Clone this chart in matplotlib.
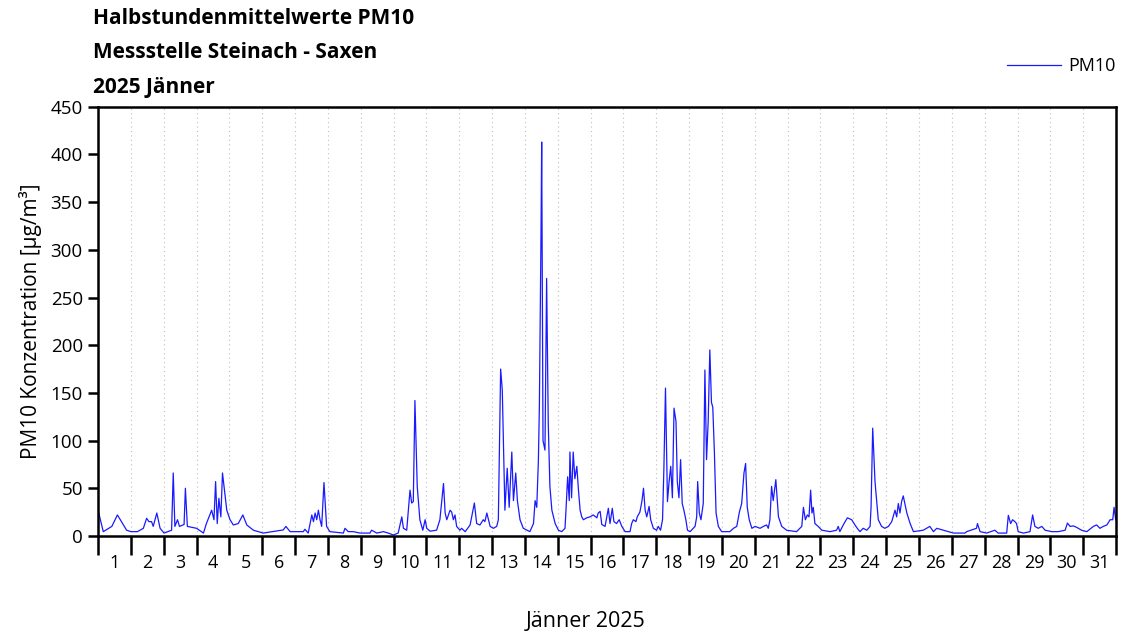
import numpy as np
import matplotlib.pyplot as plt
from matplotlib.ticker import FixedLocator, NullFormatter, FixedFormatter

plt.rcParams['font.family'] = ['Open Sans', 'DejaVu Sans']

# ~~~ data (day of month as fraction since 1 Jan 00:00, PM10 in ug/m3) ~~~
tage = [0.00, 0.16, 0.42, 0.59, 0.87, 1.00, 1.20, 1.38, 1.48, 1.55, 1.63, 1.68, 1.79, 1.89,
        2.01, 2.24, 2.29, 2.34, 2.42, 2.48, 2.62, 2.66, 2.72, 3.00, 3.21, 3.30, 3.46, 3.53,
        3.58, 3.63, 3.68, 3.74, 3.79, 3.85, 3.92, 4.02, 4.12, 4.27, 4.41, 4.53, 4.73, 5.03,
        5.64, 5.72, 5.85, 6.25, 6.30, 6.40, 6.51, 6.56, 6.61, 6.66, 6.71, 6.76, 6.81, 6.88,
        6.96, 7.06, 7.47, 7.52, 7.62, 7.77, 7.98, 8.28, 8.33, 8.49, 8.69, 8.84, 8.99, 9.14,
        9.25, 9.30, 9.40, 9.50, 9.55, 9.60, 9.65, 9.72, 9.80, 9.89, 9.96, 10.01, 10.11, 10.31,
        10.41, 10.52, 10.57, 10.62, 10.72, 10.77, 10.82, 10.87, 10.92, 11.02, 11.07, 11.18,
        11.33, 11.46, 11.53, 11.63, 11.73, 11.78, 11.84, 11.94, 12.04, 12.14, 12.19, 12.26,
        12.31, 12.39, 12.46, 12.52, 12.60, 12.65, 12.72, 12.77, 12.85, 12.95, 13.15, 13.26,
        13.31, 13.36, 13.41, 13.44, 13.49, 13.51, 13.55, 13.61, 13.66, 13.71, 13.76, 13.82,
        13.92, 14.02, 14.12, 14.22, 14.25, 14.30, 14.35, 14.37, 14.42, 14.47, 14.52, 14.58,
        14.63, 14.68, 14.73, 14.78, 14.88, 14.98, 15.08, 15.19, 15.23, 15.29, 15.34, 15.44,
        15.54, 15.59, 15.66, 15.71, 15.79, 15.87, 15.95, 16.05, 16.20, 16.25, 16.30, 16.38,
        16.42, 16.50, 16.56, 16.61, 16.66, 16.71, 16.78, 16.83, 16.91, 17.01, 17.06, 17.13,
        17.19, 17.23, 17.28, 17.34, 17.39, 17.44, 17.49, 17.54, 17.60, 17.64, 17.69, 17.74,
        17.79, 17.84, 17.90, 17.95, 18.03, 18.18, 18.23, 18.26, 18.31, 18.36, 18.43, 18.48,
        18.53, 18.58, 18.63, 18.68, 18.72, 18.77, 18.82, 18.89, 18.99, 19.24, 19.35, 19.45,
        19.53, 19.60, 19.67, 19.72, 19.77, 19.83, 19.91, 20.01, 20.16, 20.26, 20.36, 20.41,
        20.46, 20.51, 20.56, 20.64, 20.72, 20.82, 20.97, 21.27, 21.43, 21.48, 21.54, 21.60,
        21.65, 21.70, 21.74, 21.78, 21.83, 21.93, 22.04, 22.29, 22.49, 22.54, 22.59, 22.67,
        22.75, 22.82, 22.95, 23.05, 23.12, 23.20, 23.30, 23.41, 23.51, 23.54, 23.59, 23.66,
        23.71, 23.76, 23.86, 23.96, 24.07, 24.17, 24.27, 24.32, 24.37, 24.42, 24.47, 24.52,
        24.63, 24.73, 24.83, 25.13, 25.33, 25.44, 25.54, 25.74, 26.05, 26.40, 26.45, 26.75,
        26.78, 26.86, 27.06, 27.31, 27.41, 27.67, 27.72, 27.79, 27.85, 27.92, 27.97, 28.02,
        28.18, 28.38, 28.46, 28.53, 28.63, 28.74, 28.84, 29.04, 29.24, 29.45, 29.52, 29.60,
        29.70, 29.80, 29.95, 30.11, 30.31, 30.41, 30.51, 30.61, 30.72, 30.82, 30.90, 30.94,
        30.99]
pm10 = [27, 4.5, 10, 22, 6, 4.5, 4.5, 8, 18.5, 15, 15, 10, 24, 8,
        3, 6, 66, 10, 17, 10, 12, 50, 10, 8, 3, 13, 27, 17,
        57, 13, 39.5, 20, 66, 48, 27, 17, 11.5, 13, 22, 11.5, 6, 3,
        6.3, 10, 4.5, 4.5, 7, 3, 22, 15, 24, 17, 27, 17, 10, 56,
        10, 4.5, 3, 8, 4.5, 4.5, 3, 3, 6, 3, 4.5, 3, 1, 3,
        20, 8, 6, 48, 34.5, 36, 142, 52, 17, 6, 17, 8, 5, 6,
        17, 55, 24, 17, 27, 25, 17, 22, 10, 6, 8, 4.5,
        11.5, 34.5, 13, 11.5, 17, 15, 24, 10, 8, 10, 17, 175,
        153, 27, 71, 30, 88, 37, 66, 37, 17, 8, 4.5, 13,
        37, 30, 80, 137, 320, 413, 100, 90, 270, 118, 52, 27,
        13, 6, 4.5, 8, 27, 62, 37, 88, 40, 88, 60, 73,
        48, 27, 20, 17, 19, 20, 22, 19, 24, 25.7, 12, 10,
        29, 13, 29, 15, 13, 17, 10, 4.5, 4.5, 13, 17, 15,
        20, 25, 36, 50, 27, 20, 31, 17, 8, 6, 10, 6,
        17, 69, 155, 36, 57, 73, 40, 134, 120, 57, 40, 80,
        34, 27, 17, 6, 4.5, 10, 20, 57, 24, 17, 34, 174,
        80, 120, 195, 140, 135, 87, 24, 10, 4.5, 4.5, 8, 10,
        25, 34, 66, 76, 30, 17, 8, 10, 8, 10, 11.5, 8,
        17, 52, 37, 59, 20, 10, 6, 4.5, 10, 30, 17, 22,
        20, 48, 24, 30, 13, 10, 6, 4.5, 6, 10, 4.5, 10,
        15, 19, 17, 11.5, 8, 4.5, 8, 6, 10, 30, 113, 57,
        37, 17, 10, 8, 10, 15, 27, 20, 34, 24, 36, 42,
        24, 13, 4.5, 6, 10, 4.5, 8, 6, 3, 3, 4.5, 8,
        13, 4.5, 3, 6, 3, 3, 21.6, 13, 17, 15, 13, 4.5,
        3, 4.5, 22, 10, 8, 10, 6, 4.5, 4.5, 6, 13.5, 10,
        10.5, 9, 6, 4.5, 10, 11.5, 8, 10, 11.5, 17, 17, 30,
        17]
tag_labels = [str(d) for d in range(1, 32)]
y_ticks = [0, 50, 100, 150, 200, 250, 300, 350, 400, 450]

fig = plt.figure(figsize=(11.23, 6.32), dpi=100)
ax = fig.add_axes([0.0873, 0.152, 0.9065, 0.679])

ax.plot(tage, pm10, color='#1a1aff', lw=0.9, label='PM10')

ax.set_xlim(0, 31)
ax.set_ylim(0, 450)

# day boundaries: ticks + dotted grid; labels centred in the day
ax.xaxis.set_major_locator(FixedLocator(np.arange(0, 32)))
ax.xaxis.set_major_formatter(NullFormatter())
ax.xaxis.set_minor_locator(FixedLocator(np.arange(31) + 0.5))
ax.xaxis.set_minor_formatter(FixedFormatter(tag_labels))
ax.tick_params(axis='x', which='major', direction='out', length=14, width=1.8)
ax.tick_params(axis='x', which='minor', length=0, labelsize=13, pad=13)
ax.grid(axis='x', which='major', ls=(0, (1, 3)), color='#bdbdbd', lw=0.8)

ax.set_yticks(y_ticks)
ax.tick_params(axis='y', direction='out', length=7, width=1.8, labelsize=13.5, pad=4)

for s in ax.spines.values():
    s.set_linewidth(1.8)

ax.set_xlabel('Jänner 2025', fontsize=15.5)
ax.xaxis.set_label_coords(0.479, -0.175)
ax.set_ylabel('PM10 Konzentration [µg/m³]', fontsize=15, labelpad=6)

fig.text(0.083, 0.970, 'Halbstundenmittelwerte PM10', fontsize=15, fontweight='bold', va='center')
fig.text(0.083, 0.917, 'Messstelle Steinach - Saxen', fontsize=15, fontweight='bold', va='center')
fig.text(0.083, 0.862, '2025 Jänner', fontsize=15, fontweight='bold', va='center')

ax.legend(loc='center right', bbox_to_anchor=(1.0, 1.095), frameon=False, fontsize=13,
          handlelength=3.0, handletextpad=0.4, borderaxespad=0, borderpad=0)

fig.savefig('out.png', dpi=100)
